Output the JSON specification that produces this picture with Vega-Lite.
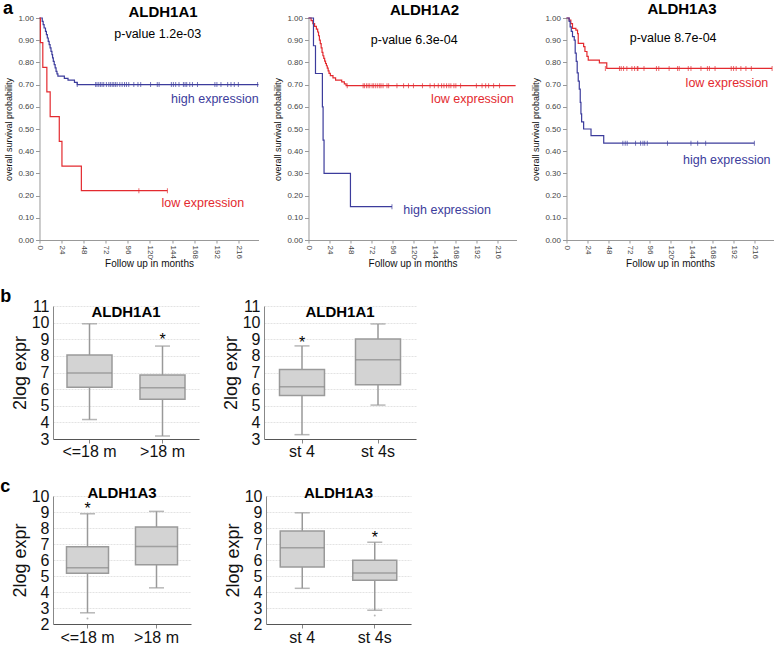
{
  "$schema": "https://vega.github.io/schema/vega-lite/v6.json",
  "padding": {"left": 0, "top": 0, "right": 0, "bottom": 0},
  "spacing": 19,
  "center": true,
  "config": {
    "font": "Liberation Sans",
    "view": {"stroke": null},
    "axis": {"labelOverlap": false},
    "title": {"font": "Liberation Sans", "color": "#000000", "fontWeight": "bold"},
    "text": {"font": "Liberation Sans"}
  },
  "datasets": {
    "km": [
      {"g":"ALDH1A1","grp":"high","m":0,"s":1},{"g":"ALDH1A1","grp":"high","m":3,"s":0.985},{"g":"ALDH1A1","grp":"high","m":4,"s":0.97},{"g":"ALDH1A1","grp":"high","m":5,"s":0.955},{"g":"ALDH1A1","grp":"high","m":6.5,"s":0.94},{"g":"ALDH1A1","grp":"high","m":7.5,"s":0.925},{"g":"ALDH1A1","grp":"high","m":8.5,"s":0.91},{"g":"ALDH1A1","grp":"high","m":9.5,"s":0.895},{"g":"ALDH1A1","grp":"high","m":10.5,"s":0.88},{"g":"ALDH1A1","grp":"high","m":11.5,"s":0.865},{"g":"ALDH1A1","grp":"high","m":12.5,"s":0.85},{"g":"ALDH1A1","grp":"high","m":13.5,"s":0.835},{"g":"ALDH1A1","grp":"high","m":14.2,"s":0.82},{"g":"ALDH1A1","grp":"high","m":15,"s":0.805},{"g":"ALDH1A1","grp":"high","m":16,"s":0.79},{"g":"ALDH1A1","grp":"high","m":17,"s":0.775},{"g":"ALDH1A1","grp":"high","m":18,"s":0.76},{"g":"ALDH1A1","grp":"high","m":19,"s":0.748},{"g":"ALDH1A1","grp":"high","m":20,"s":0.738},{"g":"ALDH1A1","grp":"high","m":27,"s":0.728},{"g":"ALDH1A1","grp":"high","m":31,"s":0.72},{"g":"ALDH1A1","grp":"high","m":38,"s":0.71},{"g":"ALDH1A1","grp":"high","m":41,"s":0.7},{"g":"ALDH1A1","grp":"high","m":238,"s":0.7},
      {"g":"ALDH1A1","grp":"low","m":0,"s":1},{"g":"ALDH1A1","grp":"low","m":1,"s":0.889},{"g":"ALDH1A1","grp":"low","m":3.6,"s":0.778},{"g":"ALDH1A1","grp":"low","m":8,"s":0.667},{"g":"ALDH1A1","grp":"low","m":11.6,"s":0.556},{"g":"ALDH1A1","grp":"low","m":21.5,"s":0.444},{"g":"ALDH1A1","grp":"low","m":24.4,"s":0.333},{"g":"ALDH1A1","grp":"low","m":45.5,"s":0.222},{"g":"ALDH1A1","grp":"low","m":139,"s":0.222},
      {"g":"ALDH1A2","grp":"low","m":0,"s":1},{"g":"ALDH1A2","grp":"low","m":3,"s":0.988},{"g":"ALDH1A2","grp":"low","m":5,"s":0.975},{"g":"ALDH1A2","grp":"low","m":7,"s":0.962},{"g":"ALDH1A2","grp":"low","m":9,"s":0.95},{"g":"ALDH1A2","grp":"low","m":10.5,"s":0.937},{"g":"ALDH1A2","grp":"low","m":11.5,"s":0.92},{"g":"ALDH1A2","grp":"low","m":12.5,"s":0.9},{"g":"ALDH1A2","grp":"low","m":13.5,"s":0.885},{"g":"ALDH1A2","grp":"low","m":14.5,"s":0.865},{"g":"ALDH1A2","grp":"low","m":15.5,"s":0.845},{"g":"ALDH1A2","grp":"low","m":16.5,"s":0.83},{"g":"ALDH1A2","grp":"low","m":17.5,"s":0.818},{"g":"ALDH1A2","grp":"low","m":18.5,"s":0.806},{"g":"ALDH1A2","grp":"low","m":19.5,"s":0.795},{"g":"ALDH1A2","grp":"low","m":20.5,"s":0.785},{"g":"ALDH1A2","grp":"low","m":21.5,"s":0.774},{"g":"ALDH1A2","grp":"low","m":22.5,"s":0.762},{"g":"ALDH1A2","grp":"low","m":23.5,"s":0.751},{"g":"ALDH1A2","grp":"low","m":25,"s":0.74},{"g":"ALDH1A2","grp":"low","m":28,"s":0.73},{"g":"ALDH1A2","grp":"low","m":31,"s":0.72},{"g":"ALDH1A2","grp":"low","m":38,"s":0.712},{"g":"ALDH1A2","grp":"low","m":41,"s":0.703},{"g":"ALDH1A2","grp":"low","m":43,"s":0.695},{"g":"ALDH1A2","grp":"low","m":237,"s":0.695},
      {"g":"ALDH1A2","grp":"high","m":0,"s":1},{"g":"ALDH1A2","grp":"high","m":5.7,"s":0.875},{"g":"ALDH1A2","grp":"high","m":8,"s":0.75},{"g":"ALDH1A2","grp":"high","m":15.9,"s":0.6},{"g":"ALDH1A2","grp":"high","m":16.7,"s":0.45},{"g":"ALDH1A2","grp":"high","m":17.8,"s":0.3},{"g":"ALDH1A2","grp":"high","m":48,"s":0.15},{"g":"ALDH1A2","grp":"high","m":95.5,"s":0.15},
      {"g":"ALDH1A3","grp":"low","m":0,"s":1},{"g":"ALDH1A3","grp":"low","m":3,"s":0.99},{"g":"ALDH1A3","grp":"low","m":5,"s":0.975},{"g":"ALDH1A3","grp":"low","m":6.9,"s":0.953},{"g":"ALDH1A3","grp":"low","m":10.8,"s":0.945},{"g":"ALDH1A3","grp":"low","m":12.7,"s":0.93},{"g":"ALDH1A3","grp":"low","m":13.5,"s":0.886},{"g":"ALDH1A3","grp":"low","m":19.7,"s":0.871},{"g":"ALDH1A3","grp":"low","m":21.2,"s":0.849},{"g":"ALDH1A3","grp":"low","m":23.5,"s":0.827},{"g":"ALDH1A3","grp":"low","m":25,"s":0.81},{"g":"ALDH1A3","grp":"low","m":37.8,"s":0.798},{"g":"ALDH1A3","grp":"low","m":46.3,"s":0.773},{"g":"ALDH1A3","grp":"low","m":236.4,"s":0.773},
      {"g":"ALDH1A3","grp":"high","m":0,"s":1},{"g":"ALDH1A3","grp":"high","m":3,"s":0.985},{"g":"ALDH1A3","grp":"high","m":4.2,"s":0.96},{"g":"ALDH1A3","grp":"high","m":5.5,"s":0.94},{"g":"ALDH1A3","grp":"high","m":6.9,"s":0.916},{"g":"ALDH1A3","grp":"high","m":8.9,"s":0.9},{"g":"ALDH1A3","grp":"high","m":10,"s":0.842},{"g":"ALDH1A3","grp":"high","m":11.2,"s":0.805},{"g":"ALDH1A3","grp":"high","m":12.3,"s":0.753},{"g":"ALDH1A3","grp":"high","m":13.5,"s":0.716},{"g":"ALDH1A3","grp":"high","m":14.7,"s":0.68},{"g":"ALDH1A3","grp":"high","m":15.8,"s":0.62},{"g":"ALDH1A3","grp":"high","m":16.6,"s":0.568},{"g":"ALDH1A3","grp":"high","m":17.4,"s":0.532},{"g":"ALDH1A3","grp":"high","m":19.7,"s":0.5},{"g":"ALDH1A3","grp":"high","m":28.2,"s":0.47},{"g":"ALDH1A3","grp":"high","m":42.8,"s":0.436},{"g":"ALDH1A3","grp":"high","m":216,"s":0.436}
    ],
    "cens": [
      {"g":"ALDH1A1","grp":"low","m":108,"s":0.222},{"g":"ALDH1A1","grp":"low","m":139,"s":0.222},
      {"g":"ALDH1A1","grp":"high","m":41,"s":0.7},{"g":"ALDH1A1","grp":"high","m":61,"s":0.7},{"g":"ALDH1A1","grp":"high","m":62.5,"s":0.7},{"g":"ALDH1A1","grp":"high","m":64.4,"s":0.7},{"g":"ALDH1A1","grp":"high","m":66.2,"s":0.7},{"g":"ALDH1A1","grp":"high","m":68,"s":0.7},{"g":"ALDH1A1","grp":"high","m":69.8,"s":0.7},{"g":"ALDH1A1","grp":"high","m":72.7,"s":0.7},{"g":"ALDH1A1","grp":"high","m":75.3,"s":0.7},{"g":"ALDH1A1","grp":"high","m":77,"s":0.7},{"g":"ALDH1A1","grp":"high","m":79,"s":0.7},{"g":"ALDH1A1","grp":"high","m":80.7,"s":0.7},{"g":"ALDH1A1","grp":"high","m":82.5,"s":0.7},{"g":"ALDH1A1","grp":"high","m":84.4,"s":0.7},{"g":"ALDH1A1","grp":"high","m":87.3,"s":0.7},{"g":"ALDH1A1","grp":"high","m":89.8,"s":0.7},{"g":"ALDH1A1","grp":"high","m":92.4,"s":0.7},{"g":"ALDH1A1","grp":"high","m":94.5,"s":0.7},{"g":"ALDH1A1","grp":"high","m":97,"s":0.7},{"g":"ALDH1A1","grp":"high","m":102.5,"s":0.7},{"g":"ALDH1A1","grp":"high","m":107,"s":0.7},{"g":"ALDH1A1","grp":"high","m":110,"s":0.7},{"g":"ALDH1A1","grp":"high","m":120.7,"s":0.7},{"g":"ALDH1A1","grp":"high","m":128,"s":0.7},{"g":"ALDH1A1","grp":"high","m":130,"s":0.7},{"g":"ALDH1A1","grp":"high","m":143.3,"s":0.7},{"g":"ALDH1A1","grp":"high","m":145.5,"s":0.7},{"g":"ALDH1A1","grp":"high","m":148,"s":0.7},{"g":"ALDH1A1","grp":"high","m":151.6,"s":0.7},{"g":"ALDH1A1","grp":"high","m":156.4,"s":0.7},{"g":"ALDH1A1","grp":"high","m":158.2,"s":0.7},{"g":"ALDH1A1","grp":"high","m":160,"s":0.7},{"g":"ALDH1A1","grp":"high","m":163.3,"s":0.7},{"g":"ALDH1A1","grp":"high","m":166.2,"s":0.7},{"g":"ALDH1A1","grp":"high","m":171.7,"s":0.7},{"g":"ALDH1A1","grp":"high","m":190.6,"s":0.7},{"g":"ALDH1A1","grp":"high","m":192.8,"s":0.7},{"g":"ALDH1A1","grp":"high","m":197.2,"s":0.7},{"g":"ALDH1A1","grp":"high","m":204.5,"s":0.7},{"g":"ALDH1A1","grp":"high","m":208.1,"s":0.7},{"g":"ALDH1A1","grp":"high","m":211.7,"s":0.7},{"g":"ALDH1A1","grp":"high","m":216.1,"s":0.7},{"g":"ALDH1A1","grp":"high","m":237,"s":0.7},
      {"g":"ALDH1A2","grp":"high","m":95.5,"s":0.15},
      {"g":"ALDH1A2","grp":"low","m":44.3,"s":0.695},{"g":"ALDH1A2","grp":"low","m":62.5,"s":0.695},{"g":"ALDH1A2","grp":"low","m":64,"s":0.695},{"g":"ALDH1A2","grp":"low","m":66.3,"s":0.695},{"g":"ALDH1A2","grp":"low","m":68.2,"s":0.695},{"g":"ALDH1A2","grp":"low","m":70.1,"s":0.695},{"g":"ALDH1A2","grp":"low","m":72.8,"s":0.695},{"g":"ALDH1A2","grp":"low","m":74.6,"s":0.695},{"g":"ALDH1A2","grp":"low","m":76.9,"s":0.695},{"g":"ALDH1A2","grp":"low","m":79.2,"s":0.695},{"g":"ALDH1A2","grp":"low","m":81.5,"s":0.695},{"g":"ALDH1A2","grp":"low","m":83,"s":0.695},{"g":"ALDH1A2","grp":"low","m":85.3,"s":0.695},{"g":"ALDH1A2","grp":"low","m":89.8,"s":0.695},{"g":"ALDH1A2","grp":"low","m":91.7,"s":0.695},{"g":"ALDH1A2","grp":"low","m":101.2,"s":0.695},{"g":"ALDH1A2","grp":"low","m":108.8,"s":0.695},{"g":"ALDH1A2","grp":"low","m":114.4,"s":0.695},{"g":"ALDH1A2","grp":"low","m":120.1,"s":0.695},{"g":"ALDH1A2","grp":"low","m":130.4,"s":0.695},{"g":"ALDH1A2","grp":"low","m":139.1,"s":0.695},{"g":"ALDH1A2","grp":"low","m":144,"s":0.695},{"g":"ALDH1A2","grp":"low","m":148.5,"s":0.695},{"g":"ALDH1A2","grp":"low","m":152.3,"s":0.695},{"g":"ALDH1A2","grp":"low","m":155,"s":0.695},{"g":"ALDH1A2","grp":"low","m":158,"s":0.695},{"g":"ALDH1A2","grp":"low","m":160.7,"s":0.695},{"g":"ALDH1A2","grp":"low","m":162.9,"s":0.695},{"g":"ALDH1A2","grp":"low","m":166.4,"s":0.695},{"g":"ALDH1A2","grp":"low","m":168.6,"s":0.695},{"g":"ALDH1A2","grp":"low","m":174,"s":0.695},{"g":"ALDH1A2","grp":"low","m":192.1,"s":0.695},{"g":"ALDH1A2","grp":"low","m":198.6,"s":0.695},{"g":"ALDH1A2","grp":"low","m":202.7,"s":0.695},{"g":"ALDH1A2","grp":"low","m":206.1,"s":0.695},{"g":"ALDH1A2","grp":"low","m":211.8,"s":0.695},{"g":"ALDH1A2","grp":"low","m":218.6,"s":0.695},
      {"g":"ALDH1A3","grp":"low","m":44.7,"s":0.773},{"g":"ALDH1A3","grp":"low","m":60.9,"s":0.773},{"g":"ALDH1A3","grp":"low","m":62.9,"s":0.773},{"g":"ALDH1A3","grp":"low","m":65.6,"s":0.773},{"g":"ALDH1A3","grp":"low","m":69.4,"s":0.773},{"g":"ALDH1A3","grp":"low","m":75.2,"s":0.773},{"g":"ALDH1A3","grp":"low","m":78.3,"s":0.773},{"g":"ALDH1A3","grp":"low","m":81.4,"s":0.773},{"g":"ALDH1A3","grp":"low","m":82.1,"s":0.773},{"g":"ALDH1A3","grp":"low","m":89.1,"s":0.773},{"g":"ALDH1A3","grp":"low","m":103.4,"s":0.773},{"g":"ALDH1A3","grp":"low","m":106.1,"s":0.773},{"g":"ALDH1A3","grp":"low","m":118,"s":0.773},{"g":"ALDH1A3","grp":"low","m":127.7,"s":0.773},{"g":"ALDH1A3","grp":"low","m":129.6,"s":0.773},{"g":"ALDH1A3","grp":"low","m":140,"s":0.773},{"g":"ALDH1A3","grp":"low","m":143.1,"s":0.773},{"g":"ALDH1A3","grp":"low","m":154.6,"s":0.773},{"g":"ALDH1A3","grp":"low","m":162,"s":0.773},{"g":"ALDH1A3","grp":"low","m":164.3,"s":0.773},{"g":"ALDH1A3","grp":"low","m":170.8,"s":0.773},{"g":"ALDH1A3","grp":"low","m":189.4,"s":0.773},{"g":"ALDH1A3","grp":"low","m":192.1,"s":0.773},{"g":"ALDH1A3","grp":"low","m":195.1,"s":0.773},{"g":"ALDH1A3","grp":"low","m":200.5,"s":0.773},{"g":"ALDH1A3","grp":"low","m":206.3,"s":0.773},{"g":"ALDH1A3","grp":"low","m":212.5,"s":0.773},{"g":"ALDH1A3","grp":"low","m":236.4,"s":0.773},
      {"g":"ALDH1A3","grp":"high","m":64.8,"s":0.436},{"g":"ALDH1A3","grp":"high","m":67.5,"s":0.436},{"g":"ALDH1A3","grp":"high","m":69.8,"s":0.436},{"g":"ALDH1A3","grp":"high","m":79.4,"s":0.436},{"g":"ALDH1A3","grp":"high","m":85.2,"s":0.436},{"g":"ALDH1A3","grp":"high","m":87.9,"s":0.436},{"g":"ALDH1A3","grp":"high","m":89.9,"s":0.436},{"g":"ALDH1A3","grp":"high","m":92.9,"s":0.436},{"g":"ALDH1A3","grp":"high","m":116.1,"s":0.436},{"g":"ALDH1A3","grp":"high","m":143.1,"s":0.436},{"g":"ALDH1A3","grp":"high","m":150.8,"s":0.436},{"g":"ALDH1A3","grp":"high","m":160,"s":0.436},{"g":"ALDH1A3","grp":"high","m":216,"s":0.436}
    ],
    "kmlab": [
      {"g":"ALDH1A1","grp":"none","t":"p-value 1.2e-03","m":128.5,"s":0.926},
      {"g":"ALDH1A1","grp":"high","t":"high expression","m":190.6,"s":0.637},
      {"g":"ALDH1A1","grp":"low","t":"low expression","m":177.6,"s":0.168},
      {"g":"ALDH1A2","grp":"none","t":"p-value 6.3e-04","m":121,"s":0.899},
      {"g":"ALDH1A2","grp":"low","t":"low expression","m":187.6,"s":0.636},
      {"g":"ALDH1A2","grp":"high","t":"high expression","m":158.6,"s":0.133},
      {"g":"ALDH1A3","grp":"none","t":"p-value 8.7e-04","m":122.6,"s":0.908},
      {"g":"ALDH1A3","grp":"low","t":"low expression","m":184.5,"s":0.706},
      {"g":"ALDH1A3","grp":"high","t":"high expression","m":184.3,"s":0.359}
    ],
    "box": [
      {"p":"b1","cat":"<=18 m","lo":4.17,"q1":6.12,"med":6.97,"q3":8.06,"hi":9.93,"star":null,"out":null},
      {"p":"b1","cat":">18 m","lo":3.18,"q1":5.39,"med":6.08,"q3":6.85,"hi":8.59,"star":9.18,"out":null},
      {"p":"b2","cat":"st 4","lo":3.26,"q1":5.62,"med":6.15,"q3":7.18,"hi":8.6,"star":9.03,"out":null},
      {"p":"b2","cat":"st 4s","lo":5.04,"q1":6.27,"med":7.76,"q3":9.01,"hi":9.92,"star":null,"out":null},
      {"p":"c1","cat":"<=18 m","lo":2.7,"q1":5.17,"med":5.51,"q3":6.83,"hi":8.89,"star":9.43,"out":2.34},
      {"p":"c1","cat":">18 m","lo":4.26,"q1":5.7,"med":6.85,"q3":8.06,"hi":9.04,"star":null,"out":null},
      {"p":"c2","cat":"st 4","lo":4.23,"q1":5.56,"med":6.76,"q3":7.81,"hi":8.95,"star":null,"out":null},
      {"p":"c2","cat":"st 4s","lo":2.86,"q1":4.74,"med":5.19,"q3":5.99,"hi":7.11,"star":7.64,"out":2.53}
    ]
  },
  "vconcat": [
    {
      "title": {"text": "a", "anchor": "start", "fontSize": 18, "offset": -16, "dx": -2},
      "bounds": "flush",
      "spacing": 50,
      "hconcat": [
        {
          "width": 219, "height": 222,
          "title": {"text": "ALDH1A1", "fontSize": 15, "dx": 14, "offset": -6},
          "layer": [
            {"data": {"name": "km"}, "transform": [{"filter": "datum.g == 'ALDH1A1'"}],
             "mark": {"type": "line", "interpolate": "step-after", "strokeWidth": 1.2},
             "encoding": {
               "x": {"field": "m", "type": "quantitative", "scale": {"domain": [0, 238], "nice": false}, "axis": {"values": [0,24,48,72,96,120,144,168,192,216], "tickCount": 50, "labelAngle": 90, "labelFontSize": 8, "labelColor": "#444", "tickSize": 3, "labelPadding": 2, "domainColor": "#999", "tickColor": "#999", "grid": false, "title": "Follow up in months", "titleFontSize": 10, "titleFontWeight": "normal", "titleColor": "#111", "titlePadding": 0}},
               "y": {"field": "s", "type": "quantitative", "scale": {"domain": [0, 1]}, "axis": {"values": [0,0.1,0.2,0.3,0.4,0.5,0.6,0.7,0.8,0.9,1], "tickCount": 50, "format": ".2f", "labelFontSize": 8, "labelColor": "#444", "tickSize": 4, "labelPadding": 2, "domainColor": "#999", "tickColor": "#999", "grid": false, "title": "overall survival probability", "titleFontSize": 9, "titleFontWeight": "normal", "titleColor": "#111", "titlePadding": 4}},
               "color": {"field": "grp", "type": "nominal", "scale": {"domain": ["high", "low", "none"], "range": ["#3c3c9c", "#e32a2f", "#000000"]}, "legend": null}
             }},
            {"data": {"name": "cens"}, "transform": [{"filter": "datum.g == 'ALDH1A1'"}],
             "mark": {"type": "tick", "orient": "vertical", "size": 5, "thickness": 1},
             "encoding": {"x": {"field": "m", "type": "quantitative"}, "y": {"field": "s", "type": "quantitative"}, "color": {"field": "grp", "type": "nominal", "legend": null}}},
            {"data": {"name": "kmlab"}, "transform": [{"filter": "datum.g == 'ALDH1A1'"}],
             "mark": {"type": "text", "fontSize": 12.5, "baseline": "middle"},
             "encoding": {"x": {"field": "m", "type": "quantitative"}, "y": {"field": "s", "type": "quantitative"}, "text": {"field": "t"}, "color": {"field": "grp", "type": "nominal", "legend": null}}}
          ]
        },
        {
          "width": 208, "height": 222,
          "title": {"text": "ALDH1A2", "fontSize": 15, "dx": 12, "offset": -4},
          "layer": [
            {"data": {"name": "km"}, "transform": [{"filter": "datum.g == 'ALDH1A2'"}],
             "mark": {"type": "line", "interpolate": "step-after", "strokeWidth": 1.2},
             "encoding": {
               "x": {"field": "m", "type": "quantitative", "scale": {"domain": [0, 238], "nice": false}, "axis": {"values": [0,24,48,72,96,120,144,168,192,216], "tickCount": 50, "labelAngle": 90, "labelFontSize": 8, "labelColor": "#444", "tickSize": 3, "labelPadding": 2, "domainColor": "#999", "tickColor": "#999", "grid": false, "title": "Follow up in months", "titleFontSize": 10, "titleFontWeight": "normal", "titleColor": "#111", "titlePadding": 0}},
               "y": {"field": "s", "type": "quantitative", "scale": {"domain": [0, 1]}, "axis": {"values": [0,0.1,0.2,0.3,0.4,0.5,0.6,0.7,0.8,0.9,1], "tickCount": 50, "format": ".2f", "labelFontSize": 8, "labelColor": "#444", "tickSize": 4, "labelPadding": 2, "domainColor": "#999", "tickColor": "#999", "grid": false, "title": "overall survival probability", "titleFontSize": 9, "titleFontWeight": "normal", "titleColor": "#111", "titlePadding": 4}},
               "color": {"field": "grp", "type": "nominal", "scale": {"domain": ["high", "low", "none"], "range": ["#3c3c9c", "#e32a2f", "#000000"]}, "legend": null}
             }},
            {"data": {"name": "cens"}, "transform": [{"filter": "datum.g == 'ALDH1A2'"}],
             "mark": {"type": "tick", "orient": "vertical", "size": 5, "thickness": 1},
             "encoding": {"x": {"field": "m", "type": "quantitative"}, "y": {"field": "s", "type": "quantitative"}, "color": {"field": "grp", "type": "nominal", "legend": null}}},
            {"data": {"name": "kmlab"}, "transform": [{"filter": "datum.g == 'ALDH1A2'"}],
             "mark": {"type": "text", "fontSize": 12.5, "baseline": "middle"},
             "encoding": {"x": {"field": "m", "type": "quantitative"}, "y": {"field": "s", "type": "quantitative"}, "text": {"field": "t"}, "color": {"field": "grp", "type": "nominal", "legend": null}}}
          ]
        },
        {
          "width": 207, "height": 222,
          "title": {"text": "ALDH1A3", "fontSize": 15, "dx": 12, "offset": -3},
          "layer": [
            {"data": {"name": "km"}, "transform": [{"filter": "datum.g == 'ALDH1A3'"}],
             "mark": {"type": "line", "interpolate": "step-after", "strokeWidth": 1.2},
             "encoding": {
               "x": {"field": "m", "type": "quantitative", "scale": {"domain": [0, 238], "nice": false}, "axis": {"values": [0,24,48,72,96,120,144,168,192,216], "tickCount": 50, "labelAngle": 90, "labelFontSize": 8, "labelColor": "#444", "tickSize": 3, "labelPadding": 2, "domainColor": "#999", "tickColor": "#999", "grid": false, "title": "Follow up in months", "titleFontSize": 10, "titleFontWeight": "normal", "titleColor": "#111", "titlePadding": 0}},
               "y": {"field": "s", "type": "quantitative", "scale": {"domain": [0, 1]}, "axis": {"values": [0,0.1,0.2,0.3,0.4,0.5,0.6,0.7,0.8,0.9,1], "tickCount": 50, "format": ".2f", "labelFontSize": 8, "labelColor": "#444", "tickSize": 4, "labelPadding": 2, "domainColor": "#999", "tickColor": "#999", "grid": false, "title": "overall survival probability", "titleFontSize": 9, "titleFontWeight": "normal", "titleColor": "#111", "titlePadding": 4}},
               "color": {"field": "grp", "type": "nominal", "scale": {"domain": ["high", "low", "none"], "range": ["#3c3c9c", "#e32a2f", "#000000"]}, "legend": null}
             }},
            {"data": {"name": "cens"}, "transform": [{"filter": "datum.g == 'ALDH1A3'"}],
             "mark": {"type": "tick", "orient": "vertical", "size": 5, "thickness": 1},
             "encoding": {"x": {"field": "m", "type": "quantitative"}, "y": {"field": "s", "type": "quantitative"}, "color": {"field": "grp", "type": "nominal", "legend": null}}},
            {"data": {"name": "kmlab"}, "transform": [{"filter": "datum.g == 'ALDH1A3'"}],
             "mark": {"type": "text", "fontSize": 12.5, "baseline": "middle"},
             "encoding": {"x": {"field": "m", "type": "quantitative"}, "y": {"field": "s", "type": "quantitative"}, "text": {"field": "t"}, "color": {"field": "grp", "type": "nominal", "legend": null}}}
          ]
        }
      ]
    },
    {
      "spacing": 19,
      "vconcat": [
        {
          "title": {"text": "b", "anchor": "start", "fontSize": 18, "offset": -8, "dx": -11},
          "bounds": "flush",
          "spacing": 65,
          "hconcat": [
            {
              "width": 146, "height": 133,
              "title": {"text": "ALDH1A1", "fontSize": 15, "offset": -22},
              "data": {"name": "box"},
              "transform": [{"filter": "datum.p == 'b1'"}],
              "encoding": {"x": {"field": "cat", "type": "nominal", "scale": {"domain": ["<=18 m", ">18 m"], "paddingInner": 0, "paddingOuter": 0}, "axis": {"labelAngle": 0, "labelFontSize": 16, "labelColor": "#111", "tickSize": 4, "labelPadding": 0, "domainColor": "#555", "tickColor": "#888", "title": null}}},
              "layer": [
                {"mark": {"type": "rule", "color": "#999", "strokeWidth": 1.5}, "encoding": {"y": {"field": "lo", "type": "quantitative", "scale": {"domain": [3, 11]}, "axis": {"values": [3,4,5,6,7,8,9,10,11], "tickCount": 50, "format": "d", "labelFontSize": 16, "labelColor": "#111", "ticks": false, "labelPadding": 4, "domainColor": "#888", "grid": true, "gridColor": "#e3e3e3", "gridDash": [2, 1], "title": "2log expr", "titleFontSize": 18, "titleFontWeight": "normal", "titleColor": "#111", "titlePadding": 2}}, "y2": {"field": "hi"}}},
                {"mark": {"type": "bar", "size": 45, "fill": "#d3d3d3", "stroke": "#9a9a9a", "strokeWidth": 1.5}, "encoding": {"y": {"field": "q1", "type": "quantitative"}, "y2": {"field": "q3"}}},
                {"mark": {"type": "tick", "orient": "horizontal", "size": 45, "thickness": 1.5, "color": "#8a8a8a"}, "encoding": {"y": {"field": "med", "type": "quantitative"}}},
                {"mark": {"type": "tick", "orient": "horizontal", "size": 15, "thickness": 1.5, "color": "#999"}, "encoding": {"y": {"field": "lo", "type": "quantitative"}}},
                {"mark": {"type": "tick", "orient": "horizontal", "size": 15, "thickness": 1.5, "color": "#999"}, "encoding": {"y": {"field": "hi", "type": "quantitative"}}},
                {"mark": {"type": "text", "text": "*", "fontSize": 16, "baseline": "middle", "dy": 4, "color": "#000"}, "encoding": {"y": {"field": "star", "type": "quantitative"}}},
                {"mark": {"type": "point", "filled": true, "size": 4, "color": "#999"}, "encoding": {"y": {"field": "out", "type": "quantitative"}}}
              ]
            },
            {
              "width": 152, "height": 133,
              "title": {"text": "ALDH1A1", "fontSize": 15, "offset": -22},
              "data": {"name": "box"},
              "transform": [{"filter": "datum.p == 'b2'"}],
              "encoding": {"x": {"field": "cat", "type": "nominal", "scale": {"domain": ["st 4", "st 4s"], "paddingInner": 0, "paddingOuter": 0}, "axis": {"labelAngle": 0, "labelFontSize": 16, "labelColor": "#111", "tickSize": 4, "labelPadding": 0, "domainColor": "#555", "tickColor": "#888", "title": null}}},
              "layer": [
                {"mark": {"type": "rule", "color": "#999", "strokeWidth": 1.5}, "encoding": {"y": {"field": "lo", "type": "quantitative", "scale": {"domain": [3, 11]}, "axis": {"values": [3,4,5,6,7,8,9,10,11], "tickCount": 50, "format": "d", "labelFontSize": 16, "labelColor": "#111", "ticks": false, "labelPadding": 4, "domainColor": "#888", "grid": true, "gridColor": "#e3e3e3", "gridDash": [2, 1], "title": "2log expr", "titleFontSize": 18, "titleFontWeight": "normal", "titleColor": "#111", "titlePadding": 2}}, "y2": {"field": "hi"}}},
                {"mark": {"type": "bar", "size": 45, "fill": "#d3d3d3", "stroke": "#9a9a9a", "strokeWidth": 1.5}, "encoding": {"y": {"field": "q1", "type": "quantitative"}, "y2": {"field": "q3"}}},
                {"mark": {"type": "tick", "orient": "horizontal", "size": 45, "thickness": 1.5, "color": "#8a8a8a"}, "encoding": {"y": {"field": "med", "type": "quantitative"}}},
                {"mark": {"type": "tick", "orient": "horizontal", "size": 15, "thickness": 1.5, "color": "#999"}, "encoding": {"y": {"field": "lo", "type": "quantitative"}}},
                {"mark": {"type": "tick", "orient": "horizontal", "size": 15, "thickness": 1.5, "color": "#999"}, "encoding": {"y": {"field": "hi", "type": "quantitative"}}},
                {"mark": {"type": "text", "text": "*", "fontSize": 16, "baseline": "middle", "dy": 4, "color": "#000"}, "encoding": {"y": {"field": "star", "type": "quantitative"}}},
                {"mark": {"type": "point", "filled": true, "size": 4, "color": "#999"}, "encoding": {"y": {"field": "out", "type": "quantitative"}}}
              ]
            },
            {
              "width": 280, "height": 10,
              "data": {"values": []},
              "mark": {"type": "point", "opacity": 0}
            }
          ]
        },
        {
          "title": {"text": "c", "anchor": "start", "fontSize": 18, "offset": -10, "dx": -11},
          "bounds": "flush",
          "spacing": 75,
          "hconcat": [
            {
              "width": 138, "height": 128,
              "title": {"text": "ALDH1A3", "fontSize": 15, "offset": -13},
              "data": {"name": "box"},
              "transform": [{"filter": "datum.p == 'c1'"}],
              "encoding": {"x": {"field": "cat", "type": "nominal", "scale": {"domain": ["<=18 m", ">18 m"], "paddingInner": 0, "paddingOuter": 0}, "axis": {"labelAngle": 0, "labelFontSize": 16, "labelColor": "#111", "tickSize": 4, "labelPadding": 1, "domainColor": "#555", "tickColor": "#888", "title": null}}},
              "layer": [
                {"mark": {"type": "rule", "color": "#999", "strokeWidth": 1.5}, "encoding": {"y": {"field": "lo", "type": "quantitative", "scale": {"domain": [2, 10]}, "axis": {"values": [2,3,4,5,6,7,8,9,10], "tickCount": 50, "format": "d", "labelFontSize": 16, "labelColor": "#111", "ticks": false, "labelPadding": 4, "domainColor": "#888", "grid": true, "gridColor": "#e3e3e3", "gridDash": [2, 1], "title": "2log expr", "titleFontSize": 18, "titleFontWeight": "normal", "titleColor": "#111", "titlePadding": 2}}, "y2": {"field": "hi"}}},
                {"mark": {"type": "bar", "size": 42, "fill": "#d3d3d3", "stroke": "#9a9a9a", "strokeWidth": 1.5}, "encoding": {"y": {"field": "q1", "type": "quantitative"}, "y2": {"field": "q3"}}},
                {"mark": {"type": "tick", "orient": "horizontal", "size": 42, "thickness": 1.5, "color": "#8a8a8a"}, "encoding": {"y": {"field": "med", "type": "quantitative"}}},
                {"mark": {"type": "tick", "orient": "horizontal", "size": 15, "thickness": 1.5, "color": "#999"}, "encoding": {"y": {"field": "lo", "type": "quantitative"}}},
                {"mark": {"type": "tick", "orient": "horizontal", "size": 15, "thickness": 1.5, "color": "#999"}, "encoding": {"y": {"field": "hi", "type": "quantitative"}}},
                {"mark": {"type": "text", "text": "*", "fontSize": 16, "baseline": "middle", "dy": 4, "color": "#000"}, "encoding": {"y": {"field": "star", "type": "quantitative"}}},
                {"mark": {"type": "point", "filled": true, "size": 4, "color": "#999"}, "encoding": {"y": {"field": "out", "type": "quantitative"}}}
              ]
            },
            {
              "width": 145, "height": 128,
              "title": {"text": "ALDH1A3", "fontSize": 15, "offset": -13},
              "data": {"name": "box"},
              "transform": [{"filter": "datum.p == 'c2'"}],
              "encoding": {"x": {"field": "cat", "type": "nominal", "scale": {"domain": ["st 4", "st 4s"], "paddingInner": 0, "paddingOuter": 0}, "axis": {"labelAngle": 0, "labelFontSize": 16, "labelColor": "#111", "tickSize": 4, "labelPadding": 1, "domainColor": "#555", "tickColor": "#888", "title": null}}},
              "layer": [
                {"mark": {"type": "rule", "color": "#999", "strokeWidth": 1.5}, "encoding": {"y": {"field": "lo", "type": "quantitative", "scale": {"domain": [2, 10]}, "axis": {"values": [2,3,4,5,6,7,8,9,10], "tickCount": 50, "format": "d", "labelFontSize": 16, "labelColor": "#111", "ticks": false, "labelPadding": 4, "domainColor": "#888", "grid": true, "gridColor": "#e3e3e3", "gridDash": [2, 1], "title": "2log expr", "titleFontSize": 18, "titleFontWeight": "normal", "titleColor": "#111", "titlePadding": 2}}, "y2": {"field": "hi"}}},
                {"mark": {"type": "bar", "size": 44, "fill": "#d3d3d3", "stroke": "#9a9a9a", "strokeWidth": 1.5}, "encoding": {"y": {"field": "q1", "type": "quantitative"}, "y2": {"field": "q3"}}},
                {"mark": {"type": "tick", "orient": "horizontal", "size": 44, "thickness": 1.5, "color": "#8a8a8a"}, "encoding": {"y": {"field": "med", "type": "quantitative"}}},
                {"mark": {"type": "tick", "orient": "horizontal", "size": 15, "thickness": 1.5, "color": "#999"}, "encoding": {"y": {"field": "lo", "type": "quantitative"}}},
                {"mark": {"type": "tick", "orient": "horizontal", "size": 15, "thickness": 1.5, "color": "#999"}, "encoding": {"y": {"field": "hi", "type": "quantitative"}}},
                {"mark": {"type": "text", "text": "*", "fontSize": 16, "baseline": "middle", "dy": 4, "color": "#000"}, "encoding": {"y": {"field": "star", "type": "quantitative"}}},
                {"mark": {"type": "point", "filled": true, "size": 4, "color": "#999"}, "encoding": {"y": {"field": "out", "type": "quantitative"}}}
              ]
            }
          ]
        }
      ]
    }
  ]
}
